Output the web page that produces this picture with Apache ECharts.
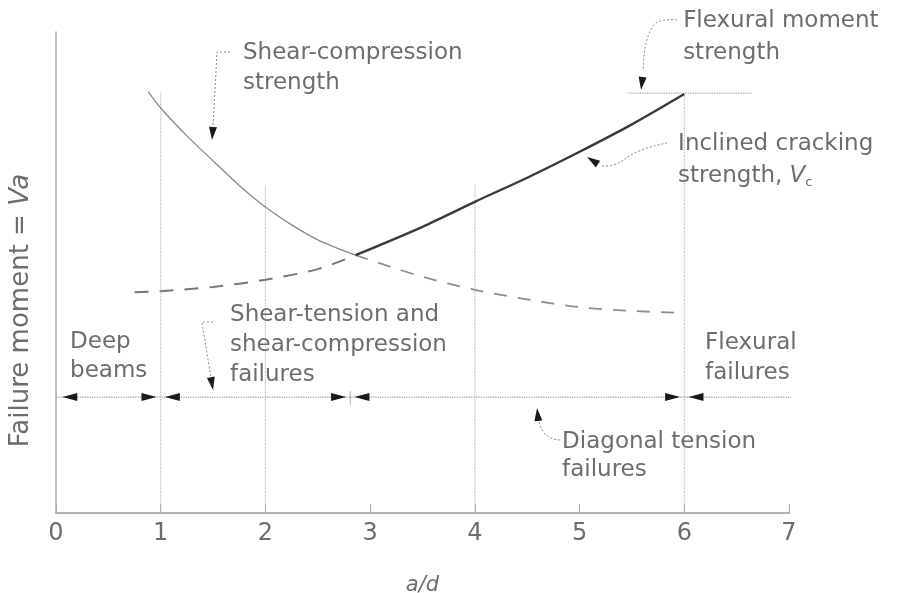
<!DOCTYPE html>
<html><head><meta charset="utf-8">
<script src="https://cdn.jsdelivr.net/npm/echarts@6/dist/echarts.min.js"></script>
<style>html,body{margin:0;padding:0;background:#fff}#c{width:903px;height:593px}</style>
</head><body><div id="c"></div>
<script>
// ---- data (a/d on x, relative failure moment on y) ----
const xTicks = [0, 1, 2, 3, 4, 5, 6, 7];
const shearCompX = [0.88, 1, 1.25, 1.5, 1.75, 2, 2.25, 2.5, 2.86];
const shearCompY = [87.6, 84.2, 78.4, 73.2, 68.1, 63.6, 59.9, 56.8, 53.6];
const shearCompDashX = [2.86, 3.25, 3.5, 4, 4.5, 5, 5.5, 6];
const shearCompDashY = [53.6, 50.8, 49.1, 46.4, 44.4, 42.8, 42.0, 41.6];
const crackDashX = [0.75, 1, 1.5, 2, 2.5, 2.86];
const crackDashY = [45.9, 46.1, 47.0, 48.5, 50.7, 53.6];
const crackX = [2.86, 3.5, 4, 4.5, 5, 5.5, 6];
const crackY = [53.6, 59.5, 64.7, 69.7, 75.1, 80.8, 87.1];
const flexX = [5.46, 6.65];
const flexY = [87.3, 87.3];
const guideX = [1, 2, 4, 6];
const guideTop = [87.5, 68.2, 68.2, 87.1];
const rangeLevel = 24.1;
const rangeBounds = [0, 1, 2.81, 6, 7.04];

const FONT = '"DejaVu Sans", sans-serif';
const TXT = '#6d6d6d';
const zip = (xs, ys) => xs.map((x, i) => [x, ys[i]]);

const series = [];
guideX.forEach((x, i) => series.push({
  type: 'line', data: [[x, 0], [x, guideTop[i]]], symbol: 'none', silent: true,
  lineStyle: { color: '#b5b5b5', width: 1.2, type: 'dotted' }, z: 1
}));
series.push({ type: 'line', data: [[rangeBounds[0], rangeLevel], [rangeBounds[rangeBounds.length - 1], rangeLevel]],
  symbol: 'none', silent: true, lineStyle: { color: '#9a9a9a', width: 1.2, type: 'dotted' } });
series.push({ type: 'line', data: zip(flexX, flexY), symbol: 'none', silent: true,
  lineStyle: { color: '#a0a0a0', width: 1.2, type: 'dotted' } });
const curve = { type: 'line', smooth: 0.3, symbol: 'none', silent: true };
series.push(Object.assign({}, curve, { data: zip(shearCompX, shearCompY),
  lineStyle: { color: '#8a8a8a', width: 1.3 } }));
series.push(Object.assign({}, curve, { data: zip(shearCompDashX, shearCompDashY),
  lineStyle: { color: '#8f8f8f', width: 1.8, type: [13, 11] } }));
series.push(Object.assign({}, curve, { data: zip(crackDashX, crackDashY),
  lineStyle: { color: '#777', width: 2, type: [14, 11] } }));
series.push(Object.assign({}, curve, { data: zip(crackX, crackY),
  lineStyle: { color: '#3a3a3a', width: 2.4 } }));

const chart = echarts.init(document.getElementById('c'), null, { renderer: 'canvas' });
chart.setOption({
  animation: false,
  backgroundColor: '#fff',
  grid: { left: 56, right: 114, top: 32, bottom: 80, containLabel: false, outerBoundsMode: 'none' },
  xAxis: {
    type: 'value', min: xTicks[0], max: xTicks[xTicks.length - 1], interval: 1,
    axisLine: { lineStyle: { color: '#999', width: 1.5 } },
    axisTick: { inside: true, length: 9, lineStyle: { color: '#aaa' } },
    axisLabel: { fontSize: 24, color: TXT, fontFamily: FONT, margin: 9 },
    splitLine: { show: false },
    name: 'a/d', nameLocation: 'middle', nameGap: 62,
    nameTextStyle: { fontSize: 21, fontStyle: 'italic', color: TXT, fontFamily: FONT }
  },
  yAxis: {
    type: 'value', min: 0, max: 100,
    axisLine: { show: true, lineStyle: { color: '#a5a5a5', width: 1.5 } },
    axisTick: { show: false }, axisLabel: { show: false }, splitLine: { show: false },
    name: 'Failure moment = {i|Va}', nameLocation: 'middle', nameRotate: 90, nameGap: 22,
    nameTextStyle: { fontSize: 26, color: TXT, fontFamily: FONT, padding: [0, 76, 0, 0],
      rich: { i: { fontSize: 26, fontStyle: 'italic', color: TXT, fontFamily: FONT } } }
  },
  series
});

// ---- annotations (in data coordinates) ----
const notes = [
  { x: 1.786, y: 98.75, lh: 30, text: 'Shear-compression\nstrength' },
  { x: 5.989, y: 105.6, lh: 32, text: 'Flexural moment\nstrength' },
  { x: 5.941, y: 80.0, lh: 32, text: 'Inclined cracking\nstrength, {i|V}{s|c}' },
  { x: 1.662, y: 44.28, lh: 30, text: 'Shear-tension and\nshear-compression\nfailures' },
  { x: 0.134, y: 38.57, lh: 29, text: 'Deep\nbeams' },
  { x: 6.199, y: 38.46, lh: 30, text: 'Flexural\nfailures' },
  { x: 4.833, y: 17.67, lh: 28, text: 'Diagonal tension\nfailures' }
];
const leaders = [
  { s: 0, p: [[1.662, 95.84], [1.538, 95.84], [1.500, 80.46], [1.490, 77.55]] },
  { s: 0.5, p: [[5.931, 102.5], [5.700, 101.2], [5.610, 92.0], [5.587, 87.94]] },
  { s: 0.5, p: [[5.836, 76.92], [5.560, 75.2], [5.330, 72.4], [5.200, 72.2], [5.072, 74.01]] },
  { s: 0, p: [[1.500, 39.71], [1.394, 39.71], [1.480, 28.07], [1.500, 25.57]] },
  { s: 0.5, p: [[4.814, 15.18], [4.680, 16.2], [4.605, 19.5], [4.594, 21.83]] }
];

const px = p => chart.convertToPixel({ gridIndex: 0 }, p);
function head(tip, from, len, hw) {
  const dx = tip[0] - from[0], dy = tip[1] - from[1];
  const d = Math.hypot(dx, dy) || 1, ux = dx / d, uy = dy / d;
  const bx = tip[0] - ux * len, by = tip[1] - uy * len;
  return { type: 'polygon', silent: true, z: 100,
    shape: { points: [tip, [bx - uy * hw, by + ux * hw], [bx + uy * hw, by - ux * hw]] },
    style: { fill: '#1a1a1a' } };
}
const g = [];
notes.forEach(n => {
  const p = px([n.x, n.y]);
  g.push({ type: 'text', x: p[0], y: p[1], silent: true, z: 100,
    style: { text: n.text, fontSize: 23, fontFamily: FONT, fill: TXT, lineHeight: n.lh,
      align: 'left', verticalAlign: 'top',
      rich: { i: { fontSize: 23, fontFamily: FONT, fontStyle: 'italic', fill: TXT, lineHeight: n.lh },
              s: { fontSize: 13, fontFamily: FONT, fill: TXT, lineHeight: n.lh, padding: [12, 0, 0, 0] } } } });
});
leaders.forEach(L => {
  const pts = L.p.map(px);
  const tip = pts[pts.length - 1];
  const line = pts.slice(0, pts.length - 1);
  g.push({ type: 'polyline', silent: true, z: 99, shape: { points: line, smooth: L.s },
    style: { stroke: '#8a8a8a', lineWidth: 1, lineDash: [2, 2], fill: null } });
  g.push(head(tip, line[line.length - 1], 13, 4));
});
// arrowheads marking the failure ranges
const gap = 0.04;
rangeBounds.forEach((b, i) => {
  if (i > 0 && i < rangeBounds.length - 1) {
    const t = px([b - gap, rangeLevel]);
    g.push(head(t, [t[0] - 15, t[1]], 15, 4));
  }
  if (i < rangeBounds.length - 1) {
    const t = px([b + (i === 0 ? 0.06 : gap), rangeLevel]);
    g.push(head(t, [t[0] + 15, t[1]], 15, 4));
  }
});
// small boundary tick at the shear-tension / diagonal-tension limit
const bt = px([rangeBounds[2], rangeLevel]);
g.push({ type: 'line', silent: true, shape: { x1: bt[0], y1: bt[1] - 6, x2: bt[0], y2: bt[1] + 8 },
  style: { stroke: '#aaa', lineWidth: 1 } });
chart.setOption({ graphic: g });
</script>
</body></html>
